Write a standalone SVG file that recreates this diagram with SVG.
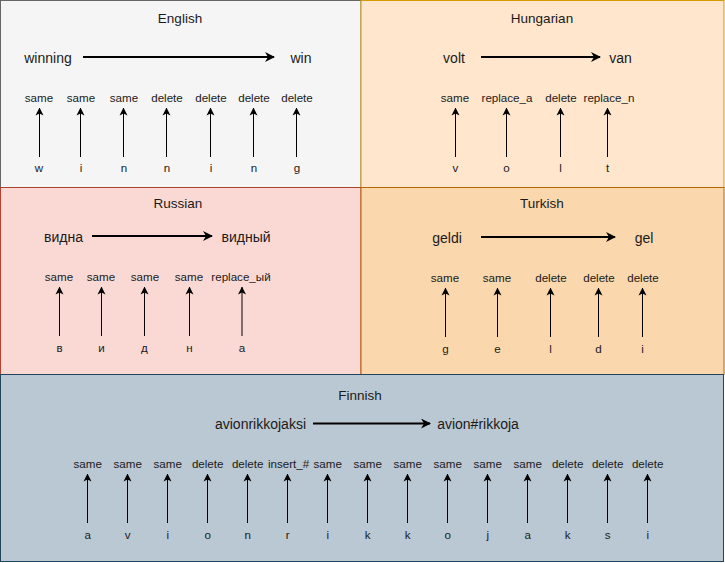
<svg xmlns="http://www.w3.org/2000/svg" width="725" height="563" viewBox="0 0 725 563">
<style>
text{font-family:"Liberation Sans",Arial,sans-serif;fill:#1a1a1a;text-anchor:middle}
.t{font-size:13.5px}
.w{font-size:14px}
.s{font-size:11.6px}
.big{stroke:#000;stroke-width:2;fill:none}
.sm{stroke:#000;stroke-width:1;fill:none}
</style>
<defs>
<marker id="ab" markerWidth="10" markerHeight="10" refX="9" refY="5" orient="auto" markerUnits="userSpaceOnUse" viewBox="0 0 10 10">
<path d="M0,0 L10,5 L0,10 L3,5 Z" fill="#000"/>
</marker>
<marker id="as" markerWidth="8" markerHeight="9" refX="7.5" refY="4" orient="auto" markerUnits="userSpaceOnUse" viewBox="0 0 8 8">
<path d="M0,0 L8,4 L0,8 L2,4 Z" fill="#000"/>
</marker>
</defs>

<g id="english">
<rect x="0.5" y="0.5" width="360.5" height="187" fill="#f5f5f5" stroke="#666666"/>
<text class="t" x="180" y="23">English</text>
<text class="w" x="48" y="63">winning</text>
<text class="w" x="301" y="63">win</text>
<g class="s">
<text x="39" y="102">same</text><text x="81" y="102">same</text><text x="124" y="102">same</text><text x="167" y="102">delete</text><text x="211" y="102">delete</text><text x="254" y="102">delete</text><text x="297" y="102">delete</text>
<text x="39" y="172">w</text><text x="81" y="172">i</text><text x="124" y="172">n</text><text x="167" y="172">n</text><text x="211" y="172">i</text><text x="254" y="172">n</text><text x="297" y="172">g</text>
</g>
</g>

<g id="hungarian">
<rect x="361" y="0.5" width="363" height="187" fill="#ffe6cc" stroke="#d79b00"/>
<text class="t" x="542" y="23">Hungarian</text>
<text class="w" x="454" y="63">volt</text>
<text class="w" x="620.5" y="63">van</text>
<g class="s">
<text x="455" y="102">same</text><text x="507" y="102">replace_a</text><text x="561" y="102">delete</text><text x="609" y="102">replace_n</text>
<text x="455.5" y="172">v</text><text x="506.5" y="172">o</text><text x="560.5" y="172">l</text><text x="607.5" y="172">t</text>
</g>
</g>

<g id="russian">
<rect x="0.5" y="187.5" width="360.5" height="187" fill="#fad9d5" stroke="#ae4132"/>
<text class="t" x="178" y="208">Russian</text>
<text class="w" x="63.5" y="242">видна</text>
<text class="w" x="246" y="242">видный</text>
<g class="s">
<text x="59" y="281">same</text><text x="101" y="281">same</text><text x="145" y="281">same</text><text x="189" y="281">same</text><text x="241" y="281">replace_ый</text>
<text x="59.5" y="352">в</text><text x="101.5" y="352">и</text><text x="144.5" y="352">д</text><text x="189.5" y="352">н</text><text x="242" y="352">а</text>
</g>
</g>

<g id="turkish">
<rect x="361" y="187.5" width="363" height="187" fill="#fad7ac" stroke="#b46504"/>
<text class="t" x="542" y="208">Turkish</text>
<text class="w" x="447" y="243">geldi</text>
<text class="w" x="644" y="243">gel</text>
<g class="s">
<text x="445" y="282">same</text><text x="497" y="282">same</text><text x="551" y="282">delete</text><text x="599" y="282">delete</text><text x="643" y="282">delete</text>
<text x="445.5" y="353">g</text><text x="497.5" y="353">e</text><text x="550.5" y="353">l</text><text x="598.5" y="353">d</text><text x="642.5" y="353">i</text>
</g>
</g>

<g id="finnish">
<rect x="0.5" y="374.5" width="723" height="187" fill="#bac8d3" stroke="#23445d"/>
<text class="t" x="360" y="400">Finnish</text>
<text class="w" x="260.5" y="429">avionrikkojaksi</text>
<text class="w" x="478" y="429">avion#rikkoja</text>
<g class="s">
<text x="87.7" y="468">same</text><text x="127.7" y="468">same</text><text x="167.7" y="468">same</text><text x="207.7" y="468">delete</text><text x="247.7" y="468">delete</text><text x="288.5" y="468">insert_#</text><text x="327.7" y="468">same</text><text x="367.7" y="468">same</text><text x="407.7" y="468">same</text><text x="447.7" y="468">same</text><text x="487.7" y="468">same</text><text x="527.7" y="468">same</text><text x="567.7" y="468">delete</text><text x="607.7" y="468">delete</text><text x="647.7" y="468">delete</text>
<text x="87.7" y="539">a</text><text x="127.7" y="539">v</text><text x="167.7" y="539">i</text><text x="207.7" y="539">o</text><text x="247.7" y="539">n</text><text x="287.7" y="539">r</text><text x="327.7" y="539">i</text><text x="367.7" y="539">k</text><text x="407.7" y="539">k</text><text x="447.7" y="539">o</text><text x="487.7" y="539">j</text><text x="527.7" y="539">a</text><text x="567.7" y="539">k</text><text x="607.7" y="539">s</text><text x="647.7" y="539">i</text>
</g>
</g>

<g id="connectors">
<line class="big" x1="83" y1="57" x2="274" y2="57" marker-end="url(#ab)"/>
<line class="big" x1="481" y1="57" x2="600" y2="57" marker-end="url(#ab)"/>
<line class="big" x1="92" y1="236" x2="212" y2="236" marker-end="url(#ab)"/>
<line class="big" x1="481" y1="237" x2="615" y2="237" marker-end="url(#ab)"/>
<line class="big" x1="313" y1="423.5" x2="430" y2="423.5" marker-end="url(#ab)"/>
<g class="sm" marker-end="url(#as)">
<line x1="39.5" y1="157" x2="39.5" y2="108"/><line x1="80.5" y1="157" x2="80.5" y2="108"/><line x1="123.5" y1="157" x2="123.5" y2="108"/><line x1="166.5" y1="157" x2="166.5" y2="108"/><line x1="210.5" y1="157" x2="210.5" y2="108"/><line x1="253.5" y1="157" x2="253.5" y2="108"/><line x1="296.5" y1="157" x2="296.5" y2="108"/>
<line x1="455.5" y1="157" x2="455.5" y2="108"/><line x1="506.5" y1="157" x2="506.5" y2="108"/><line x1="560.5" y1="157" x2="560.5" y2="108"/><line x1="607.5" y1="157" x2="607.5" y2="108"/>
<line x1="59.5" y1="336" x2="59.5" y2="287"/><line x1="101.5" y1="336" x2="101.5" y2="287"/><line x1="144.5" y1="336" x2="144.5" y2="287"/><line x1="189.5" y1="336" x2="189.5" y2="287"/><line x1="242" y1="336" x2="242" y2="287"/>
<line x1="445.5" y1="337" x2="445.5" y2="288"/><line x1="497.5" y1="337" x2="497.5" y2="288"/><line x1="550.5" y1="337" x2="550.5" y2="288"/><line x1="598.5" y1="337" x2="598.5" y2="288"/><line x1="642.5" y1="337" x2="642.5" y2="288"/>
<line x1="87.5" y1="523" x2="87.5" y2="474"/><line x1="127.5" y1="523" x2="127.5" y2="474"/><line x1="167.5" y1="523" x2="167.5" y2="474"/><line x1="207.5" y1="523" x2="207.5" y2="474"/><line x1="247.5" y1="523" x2="247.5" y2="474"/><line x1="287.5" y1="523" x2="287.5" y2="474"/><line x1="327.5" y1="523" x2="327.5" y2="474"/><line x1="367.5" y1="523" x2="367.5" y2="474"/><line x1="407.5" y1="523" x2="407.5" y2="474"/><line x1="447.5" y1="523" x2="447.5" y2="474"/><line x1="487.5" y1="523" x2="487.5" y2="474"/><line x1="527.5" y1="523" x2="527.5" y2="474"/><line x1="567.5" y1="523" x2="567.5" y2="474"/><line x1="607.5" y1="523" x2="607.5" y2="474"/><line x1="647.5" y1="523" x2="647.5" y2="474"/>
</g>
</g>
</svg>
